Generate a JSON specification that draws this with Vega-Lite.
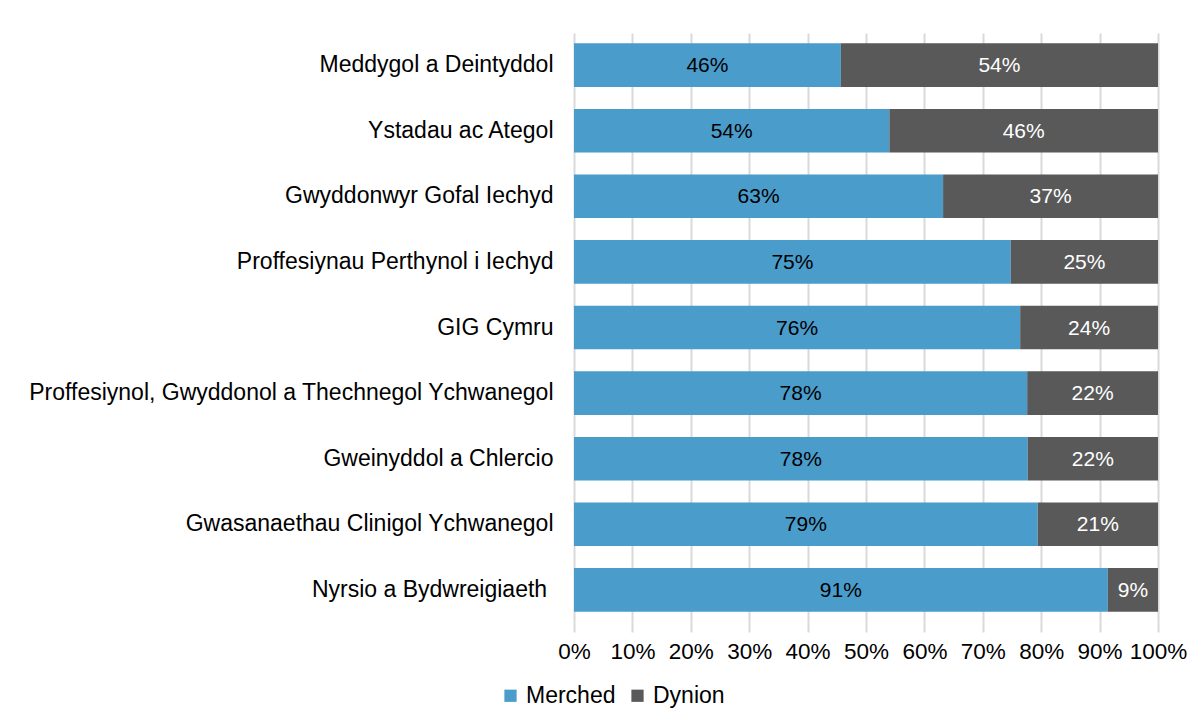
{
  "$schema": "https://vega.github.io/schema/vega-lite/v6.json",
  "width": 584,
  "height": 589,
  "autosize": {"type": "none"},
  "padding": {"left": 574, "top": 33, "right": 42, "bottom": 98},
  "background": "white",
  "config": {
    "font": "Liberation Sans",
    "view": {"stroke": null},
    "axis": {"labelFont": "Liberation Sans", "labelColor": "#000000"},
    "legend": {"labelFont": "Liberation Sans"}
  },
  "data": {
    "values": [
      {"grwp": "Meddygol a Deintyddol", "rhyw": "Merched", "canran": 45.7, "label": "46%"},
      {"grwp": "Meddygol a Deintyddol", "rhyw": "Dynion", "canran": 54.3, "label": "54%"},
      {"grwp": "Ystadau ac Ategol", "rhyw": "Merched", "canran": 54.0, "label": "54%"},
      {"grwp": "Ystadau ac Ategol", "rhyw": "Dynion", "canran": 46.0, "label": "46%"},
      {"grwp": "Gwyddonwyr Gofal Iechyd", "rhyw": "Merched", "canran": 63.2, "label": "63%"},
      {"grwp": "Gwyddonwyr Gofal Iechyd", "rhyw": "Dynion", "canran": 36.8, "label": "37%"},
      {"grwp": "Proffesiynau Perthynol i Iechyd", "rhyw": "Merched", "canran": 74.8, "label": "75%"},
      {"grwp": "Proffesiynau Perthynol i Iechyd", "rhyw": "Dynion", "canran": 25.2, "label": "25%"},
      {"grwp": "GIG Cymru", "rhyw": "Merched", "canran": 76.4, "label": "76%"},
      {"grwp": "GIG Cymru", "rhyw": "Dynion", "canran": 23.6, "label": "24%"},
      {"grwp": "Proffesiynol, Gwyddonol a Thechnegol Ychwanegol", "rhyw": "Merched", "canran": 77.6, "label": "78%"},
      {"grwp": "Proffesiynol, Gwyddonol a Thechnegol Ychwanegol", "rhyw": "Dynion", "canran": 22.4, "label": "22%"},
      {"grwp": "Gweinyddol a Chlercio", "rhyw": "Merched", "canran": 77.7, "label": "78%"},
      {"grwp": "Gweinyddol a Chlercio", "rhyw": "Dynion", "canran": 22.3, "label": "22%"},
      {"grwp": "Gwasanaethau Clinigol Ychwanegol", "rhyw": "Merched", "canran": 79.4, "label": "79%"},
      {"grwp": "Gwasanaethau Clinigol Ychwanegol", "rhyw": "Dynion", "canran": 20.6, "label": "21%"},
      {"grwp": "Nyrsio a Bydwreigiaeth \u200b", "rhyw": "Merched", "canran": 91.4, "label": "91%"},
      {"grwp": "Nyrsio a Bydwreigiaeth \u200b", "rhyw": "Dynion", "canran": 8.6, "label": "9%"}
    ]
  },
  "transform": [
    {"calculate": "datum.rhyw === 'Merched' ? 0 : 1", "as": "trefn"},
    {"stack": "canran", "groupby": ["grwp"], "sort": [{"field": "trefn", "order": "ascending"}], "as": ["x0", "x1"]},
    {"calculate": "(datum.x0 + datum.x1) / 2", "as": "xmid"}
  ],
  "encoding": {
    "y": {
      "field": "grwp",
      "type": "nominal",
      "sort": null,
      "scale": {"paddingInner": 0.335, "paddingOuter": 0.157},
      "axis": {
        "title": null,
        "domain": false,
        "ticks": false,
        "labelFontSize": 23,
        "labelPadding": 21,
        "labelLimit": 600
      }
    }
  },
  "layer": [
    {
      "mark": {"type": "bar"},
      "encoding": {
        "x": {
          "field": "x0",
          "type": "quantitative",
          "scale": {"domain": [0, 100], "nice": false},
          "axis": {
            "title": null,
            "values": [0, 10, 20, 30, 40, 50, 60, 70, 80, 90, 100],
            "labelExpr": "datum.value + '%'",
            "labelFontSize": 22.5,
            "labelPadding": 8,
            "grid": true,
            "gridColor": "#d9d9d9",
            "gridWidth": 2,
            "tickColor": "#d9d9d9",
            "tickWidth": 2,
            "tickSize": 10,
            "domain": false,
            "labelFlush": false,
            "labelOverlap": false
          }
        },
        "x2": {"field": "x1"},
        "color": {
          "field": "rhyw",
          "type": "nominal",
          "scale": {"domain": ["Merched", "Dynion"], "range": ["#4a9ccb", "#595959"]},
          "legend": {
            "title": null,
            "orient": "none",
            "direction": "horizontal",
            "legendX": -75,
            "legendY": 651,
            "symbolType": "square",
            "symbolSize": 150,
            "symbolStrokeWidth": 0,
            "labelFontSize": 23,
            "labelColor": "#000000",
            "columnPadding": 10,
            "labelOffset": 4
          }
        }
      }
    },
    {
      "mark": {"type": "text", "fontSize": 21, "baseline": "middle", "align": "center", "dy": 1},
      "encoding": {
        "x": {"field": "xmid", "type": "quantitative"},
        "text": {"field": "label"},
        "color": {
          "condition": {"test": "datum.rhyw === 'Merched'", "value": "#000000"},
          "value": "#ffffff"
        }
      }
    }
  ]
}
